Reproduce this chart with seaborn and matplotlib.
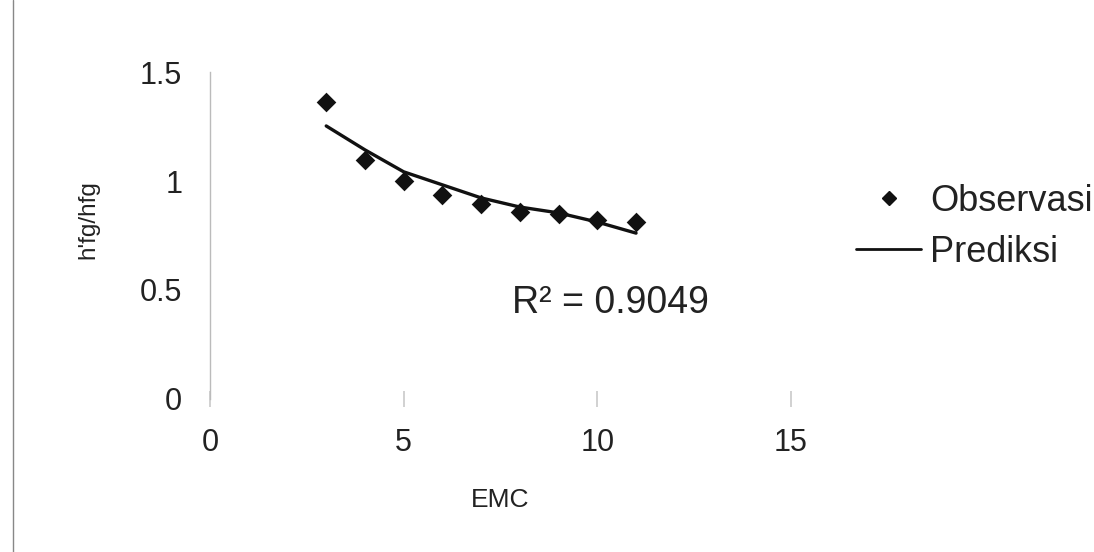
import numpy as np
import pandas as pd
import matplotlib
matplotlib.use("Agg")
import matplotlib.pyplot as plt
import seaborn as sns
from matplotlib.lines import Line2D

# ── Data ──────────────────────────────────
emc = [3, 4, 5, 6, 7, 8, 9, 10, 11]
observasi = [1.366, 1.097, 1.001, 0.937, 0.895, 0.858, 0.849, 0.821, 0.812]
prediksi = [1.254, 1.144, 1.043, 0.983, 0.923, 0.881, 0.854, 0.812, 0.761]
r2_text = "R² = 0.9049"

df = pd.DataFrame({"EMC": emc, "Observasi": observasi, "Prediksi": prediksi})

sns.set_theme(style="white")
plt.rcParams["font.family"] = ["Liberation Sans", "DejaVu Sans"]

fig = plt.figure(figsize=(10.94, 5.52), dpi=100)
ax = fig.add_axes([0.192, 0.278, 0.531, 0.5907])

sns.lineplot(data=df, x="EMC", y="Prediksi", ax=ax, color="#111111",
             linewidth=2.4, legend=False)
sns.scatterplot(data=df, x="EMC", y="Observasi", ax=ax, marker="D",
                s=100, color="#111111", edgecolor="#111111", linewidth=0,
                legend=False)

ax.set_xlim(0, 15)
ax.set_ylim(0, 1.5)
ax.set_xticks([0, 5, 10, 15])
ax.set_xticklabels(["0", "5", "10", "15"])
ax.set_yticks([0, 0.5, 1, 1.5])
ax.set_yticklabels(["0", "0.5", "1", "1.5"])

for s in ["top", "right", "bottom"]:
    ax.spines[s].set_visible(False)
ax.spines["left"].set_color("#bbbbbb")
ax.spines["left"].set_linewidth(1.0)

ax.tick_params(axis="x", labelsize=22, pad=15, direction="inout", length=12,
               color="#cccccc", bottom=True, labelcolor="#222222")
ax.tick_params(axis="y", labelsize=22, pad=20, length=0, labelcolor="#222222")

ax.set_xlabel("EMC", fontsize=19, labelpad=22, color="#222222")
ax.set_ylabel("h'fg/hfg", fontsize=17.5, color="#222222")
ax.yaxis.set_label_coords(-0.19, 0.548)

ax.text(7.8, 0.393, r2_text, fontsize=27, color="#222222", va="baseline")

handles = [
    Line2D([], [], marker="D", linestyle="none", color="#111111", markersize=7.5),
    Line2D([], [], color="#111111", linewidth=2.0),
]
fig.legend(handles, ["Observasi", "Prediksi"], loc="center left",
           bbox_to_anchor=(0.753, 0.589), frameon=False, fontsize=26,
           handlelength=1.8, handletextpad=0.25, labelspacing=0.45,
           labelcolor="#222222")

# outer border line on the left edge
fig.add_artist(Line2D([0.012, 0.012], [0.0, 1.0], color="#888888",
                      linewidth=1.0, transform=fig.transFigure))

fig.savefig("out.png", dpi=100)
